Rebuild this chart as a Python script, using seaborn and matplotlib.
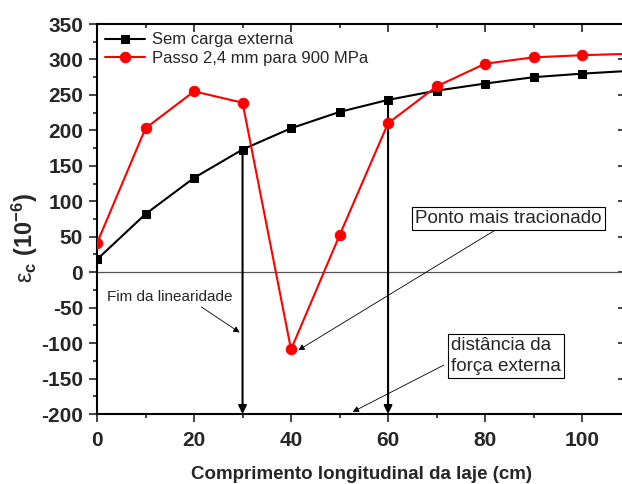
import seaborn as sns
import matplotlib.pyplot as plt
import numpy as np
from matplotlib.ticker import MultipleLocator

# comprimento longitudinal (cm)
x_cm = [0, 10, 20, 30, 40, 50, 60, 70, 80, 90, 100, 110]
sem_carga = [18, 82, 133, 173, 203, 226, 243, 256, 266, 275, 280, 284]
passo_24 = [41, 203, 255, 239, -109, 52, 210, 262, 294, 303, 306, 308]

sns.set_theme(style="ticks")
plt.rcParams['font.family'] = ['Liberation Sans', 'DejaVu Sans']
plt.rcParams['axes.unicode_minus'] = False
plt.rcParams['mathtext.fontset'] = 'custom'
plt.rcParams['mathtext.rm'] = 'Liberation Sans'
plt.rcParams['mathtext.bf'] = 'Liberation Sans:bold'
plt.rcParams['mathtext.it'] = 'Liberation Sans:italic'

fig = plt.figure(figsize=(6.22, 4.84), dpi=100)
ax = fig.add_axes([0.156, 0.1446, 0.85, 0.8058])

ax.axhline(0, color='#555555', lw=0.9, zorder=1)

sns.lineplot(x=x_cm, y=sem_carga, ax=ax, color='black', marker='s', markersize=6,
             markeredgecolor='black', lw=1.5, label='Sem carga externa', zorder=3)
sns.lineplot(x=x_cm, y=passo_24, ax=ax, color='red', marker='o', markersize=7.5,
             markeredgecolor='red', lw=1.5, label='Passo 2,4 mm para 900 MPa', zorder=4)

ax.set_xlim(0, 109)
ax.set_ylim(-200, 350)

# setas verticais
for xv, yv in [(30, sem_carga[3]), (60, sem_carga[6])]:
    ax.annotate('', xy=(xv, -200), xytext=(xv, yv),
                arrowprops=dict(arrowstyle='-|>', color='black', lw=1.5,
                                mutation_scale=12, shrinkA=0, shrinkB=0), zorder=2)

ax.text(2, -35, 'Fim da linearidade', fontsize=11, va='center', ha='left')
ax.annotate('', xy=(29.4, -85), xytext=(21.5, -49),
            arrowprops=dict(arrowstyle='-|>', color='black', lw=0.6,
                            mutation_scale=9, shrinkA=0, shrinkB=0))

ax.text(65.6, 76, 'Ponto mais tracionado', fontsize=13.6, va='center', ha='left',
        bbox=dict(boxstyle='square,pad=0.15', fc='white', ec='black', lw=0.8))
ax.annotate('', xy=(41.5, -110), xytext=(82, 59),
            arrowprops=dict(arrowstyle='-|>', color='black', lw=0.6,
                            mutation_scale=9, shrinkA=0, shrinkB=0))

ax.text(73.0, -118, 'distância da\nforça externa', fontsize=13.6, va='center', ha='left',
        linespacing=1.3,
        bbox=dict(boxstyle='square,pad=0.15', fc='white', ec='black', lw=0.8))
ax.annotate('', xy=(52.7, -197), xytext=(71.5, -131),
            arrowprops=dict(arrowstyle='-|>', color='black', lw=0.6,
                            mutation_scale=9, shrinkA=0, shrinkB=0))

ax.xaxis.set_major_locator(MultipleLocator(20))
ax.xaxis.set_minor_locator(MultipleLocator(10))
ax.yaxis.set_major_locator(MultipleLocator(50))
ax.yaxis.set_minor_locator(MultipleLocator(25))
ax.tick_params(which='both', direction='out', width=1.2, top=False, right=False)
ax.tick_params(which='major', length=6, labelsize=15, pad=4)
ax.tick_params(axis='x', which='major', pad=6)
ax.tick_params(which='minor', length=3)
for lab in ax.get_xticklabels() + ax.get_yticklabels():
    lab.set_fontweight('bold')

# ticks internos no topo e na direita
secx = ax.secondary_xaxis('top')
secx.xaxis.set_major_locator(MultipleLocator(20))
secx.xaxis.set_minor_locator(MultipleLocator(10))
secx.tick_params(which='both', direction='in', labeltop=False, width=1.2)
secx.tick_params(which='major', length=6)
secx.tick_params(which='minor', length=3)
secy = ax.secondary_yaxis('right')
secy.yaxis.set_major_locator(MultipleLocator(50))
secy.yaxis.set_minor_locator(MultipleLocator(25))
secy.tick_params(which='both', direction='in', labelright=False, width=1.2)
secy.tick_params(which='major', length=6)
secy.tick_params(which='minor', length=3)

for s in ax.spines.values():
    s.set_linewidth(1.5)
    s.set_color('black')

ax.set_xlabel('Comprimento longitudinal da laje (cm)', fontsize=13.5, fontweight='bold', labelpad=12)
ax.set_ylabel(r'$\mathrm{ε}_\mathbf{c}\ \mathbf{(10^{-6})}$', fontsize=17)
ax.yaxis.set_label_coords(-0.108, 0.45)

leg = ax.legend(loc='upper left', frameon=False, fontsize=12, handlelength=2.4,
                borderaxespad=0.1, handletextpad=0.4, labelspacing=0.2)

fig.savefig('out.png', dpi=100)
